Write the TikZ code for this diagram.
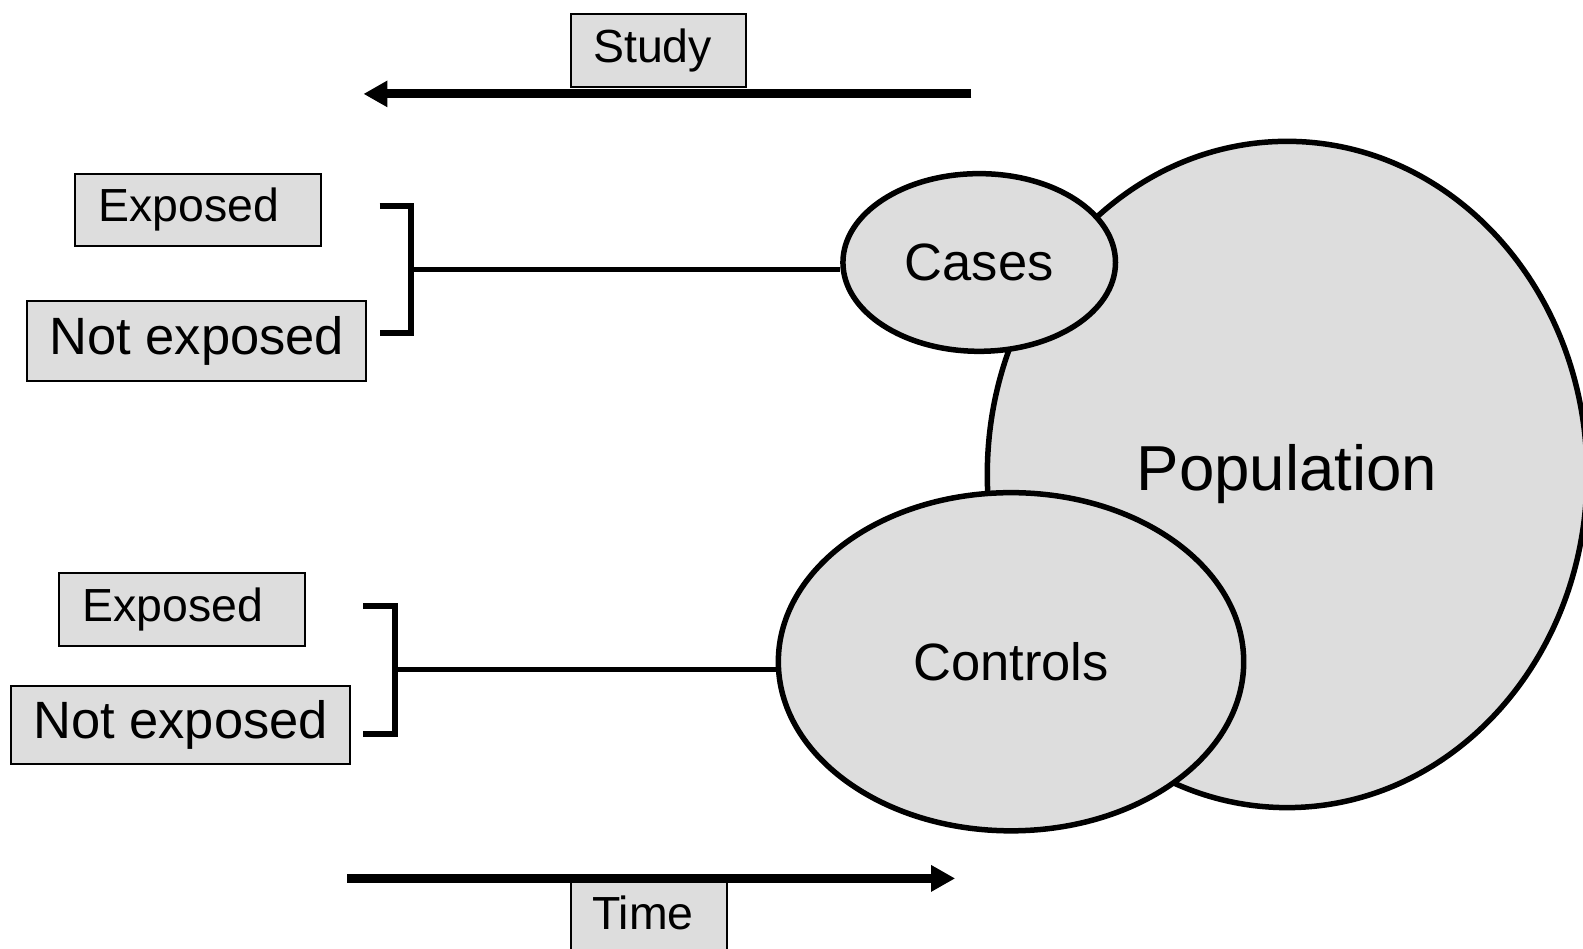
\documentclass[tikz,border=0pt]{standalone}
\usepackage{fontspec}
\setmainfont{Liberation Sans}
\usetikzlibrary{shapes.geometric,arrows.meta}
\definecolor{boxgray}{HTML}{DDDDDD}
\begin{document}
\begin{tikzpicture}[x=1pt,y=-1pt,scale=1.0095,transform shape,
  lbox/.style={draw=black, line width=2pt, fill=boxgray, inner sep=0pt, align=center},
  fsmall/.style={font=\fontsize{46}{50}\selectfont},
  fmid/.style={font=\fontsize{52}{56}\selectfont},
  blob/.style={ellipse, draw=black, line width=5.5pt, fill=boxgray, inner sep=0pt},
  brk/.style={line width=5.5pt, line join=miter},
  conn/.style={line width=5.5pt},
  bigarrow/.style={line width=9pt, -{Triangle[length=24pt,width=25pt]}}]
\useasboundingbox (0,0) rectangle (1568.1,939.1);

% ellipses
\node[blob, minimum width=594pt, minimum height=660pt, font=\fontsize{63}{67}\selectfont] (pop) at (1275,470) {Population};
\node[blob, minimum width=270pt, minimum height=176pt, fmid] (cases) at (970,260) {Cases};
\node[blob, minimum width=461pt, minimum height=335pt, fmid] (controls) at (1001.5,655.5) {Controls};

% label boxes
\node[lbox, fsmall, minimum width=173pt, minimum height=72pt] (study) at (652.5,50) {Study\hspace*{12pt}};
\node[lbox, fsmall, minimum width=244pt, minimum height=72pt] (exp1) at (196,208) {Exposed\hspace*{18pt}};
\node[lbox, fmid, minimum width=336pt, minimum height=79pt] (nexp1) at (195,337.5) {Not exposed};
\node[lbox, fsmall, minimum width=244pt, minimum height=72pt] (exp2) at (180,604) {Exposed\hspace*{18pt}};
\node[lbox, fmid, minimum width=336pt, minimum height=77pt] (nexp2) at (179,718.5) {Not exposed};
\node[lbox, fsmall, minimum width=154pt, minimum height=90pt, text height=33pt, text depth=25pt] (time) at (643,917) {Time\hspace*{12pt}};

% arrows
\coordinate (sR) at (962,93);
\coordinate (sL) at (360,93);
\draw[bigarrow] (sR) -- (sL);
\coordinate (tL) at (344,870);
\coordinate (tR) at (946,870);
\draw[bigarrow] (tL) -- (tR);

% upper bracket
\coordinate (b1a) at (376,204);
\coordinate (b1b) at (407,204);
\coordinate (b1c) at (407,330);
\coordinate (b1d) at (376,330);
\coordinate (b1m) at (407,267);
\draw[brk] (b1a) -- (b1b) -- (b1c) -- (b1d);
\draw[conn] (b1m) -- (cases.west |- b1m);

% lower bracket
\coordinate (b2a) at (360,600);
\coordinate (b2b) at (391,600);
\coordinate (b2c) at (391,727);
\coordinate (b2d) at (360,727);
\coordinate (b2m) at (391,663);
\draw[brk] (b2a) -- (b2b) -- (b2c) -- (b2d);
\draw[conn] (b2m) -- (controls.west |- b2m);
\end{tikzpicture}
\end{document}
